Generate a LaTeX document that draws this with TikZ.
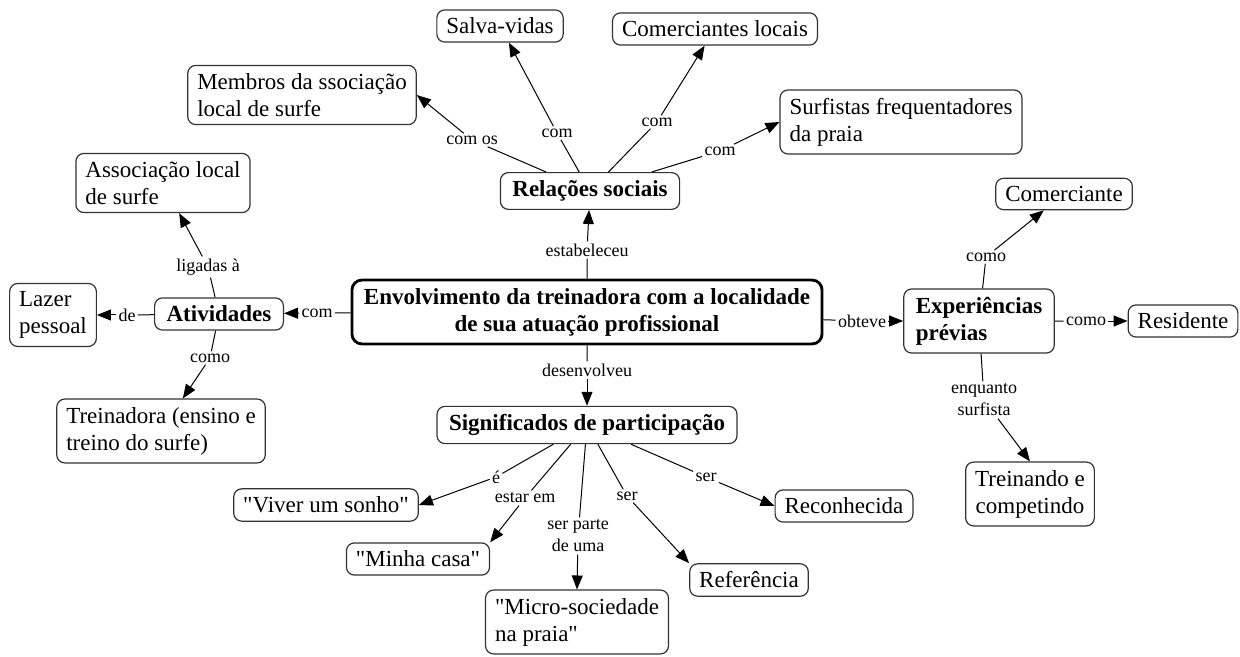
\documentclass[tikz,border=0pt]{standalone}
\usepackage{fontspec}
\setmainfont{LiberationSerif}[Extension=.ttf, UprightFont=*-Regular, BoldFont=*-Bold, ItalicFont=*-Italic, BoldItalicFont=*-BoldItalic]
\usetikzlibrary{arrows.meta}
\tikzset{
    concept/.style={draw=black!80, line width=0.6pt, rounded corners=4pt, fill=white,
        inner xsep=4.75pt, inner ysep=4pt, align=left, font=\fontsize{11.5}{13.5}\selectfont},
    keyconcept/.style={concept, inner xsep=6pt, font=\fontsize{11.5}{13.5}\selectfont\bfseries},
    linkword/.style={inner sep=1pt, align=center, font=\fontsize{9}{11}\selectfont},
    >={Triangle[length=7pt,width=5.5pt]}
}

\begin{document}
\begin{tikzpicture}[x=0.5pt, y=-0.5pt]
    \useasboundingbox (0,0) rectangle (1240,657);

    % concepts
    \node[keyconcept, draw=black, line width=1.4pt, rounded corners=5pt, align=center] (central) at (587,312) {Envolvimento da treinadora com a localidade\\de sua atuação profissional};
    \node[keyconcept] (relacoes) at (590,191) {Relações sociais};
    \node[keyconcept] (atividades) at (219,314) {Atividades};
    \node[keyconcept] (exper) at (979,321) {Experiências\\prévias};
    \node[keyconcept] (signif) at (587,425) {Significados de participação};

    \node[concept] (salva) at (500,26) {Salva-vidas};
    \node[concept] (comloc) at (715,29) {Comerciantes locais};
    \node[concept] (membros) at (302,95) {Membros da ssociação\\local de surfe};
    \node[concept] (surfistas) at (901,122) {Surfistas frequentadores\\da praia};
    \node[concept] (assoc) at (163,183) {Associação local\\de surfe};
    \node[concept] (lazer) at (53,315) {Lazer\\pessoal};
    \node[concept] (treinadora) at (161,431) {Treinadora (ensino e\\treino do surfe)};
    \node[concept] (comerc) at (1064,194) {Comerciante};
    \node[concept] (resid) at (1183,321) {Residente};
    \node[concept, align=center] (treinando) at (1030,494) {Treinando e\\competindo};
    \node[concept] (viver) at (326,505) {\textquotedbl Viver um sonho\textquotedbl};
    \node[concept] (minha) at (418,559) {\textquotedbl Minha casa\textquotedbl};
    \node[concept] (micro) at (577,622) {\textquotedbl Micro-sociedade\\na praia\textquotedbl};
    \node[concept] (refer) at (749,580) {Referência};
    \node[concept] (reconh) at (844,506) {Reconhecida};

    % linking words
    \node[linkword] (lestab) at (587,250) {estabeleceu};
    \node[linkword] (lcomos) at (472,140) {com os};
    \node[linkword] (lcoma) at (557,133) {com};
    \node[linkword] (lcomb) at (657,122) {com};
    \node[linkword] (lcomc) at (720,151) {com};
    \node[linkword] (lcomd) at (317,313) {com};
    \node[linkword] (lde) at (127,315) {de};
    \node[linkword] (lligadas) at (208,267) {ligadas à};
    \node[linkword] (lcomoa) at (210,358) {como};
    \node[linkword] (lobteve) at (862,321) {obteve};
    \node[linkword] (lcomob) at (986,257) {como};
    \node[linkword] (lcomoc) at (1086,321) {como};
    \node[linkword] (lenquanto) at (984,400) {enquanto\\surfista};
    \node[linkword] (ldesenv) at (587,370) {desenvolveu};
    \node[linkword] (le) at (496,477) {é};
    \node[linkword] (lestar) at (525,498) {estar em};
    \node[linkword] (lparte) at (578,536) {ser parte\\de uma};
    \node[linkword] (lsera) at (627,496) {ser};
    \node[linkword] (lserb) at (706,477) {ser};

    \draw[line width=0.5pt, black]
    (central) -- (lestab) (lestab) edge[->] (relacoes)
    (relacoes) -- (lcomos) (lcomos) edge[->] (membros.east)
    (relacoes) -- (lcoma) (lcoma) edge[->] (salva)
    (relacoes) -- (lcomb) (lcomb) edge[->] (comloc)
    (relacoes) -- (lcomc) (lcomc) edge[->] (surfistas.west)
    (central) -- (lcomd) (lcomd) edge[->] (atividades)
    (atividades) -- (lde) (lde) edge[->] (lazer.east)
    (atividades) -- (lligadas) (lligadas) edge[->] (assoc)
    (atividades) -- (lcomoa) (lcomoa) edge[->] (treinadora)
    (central) -- (lobteve) (lobteve) edge[->] (exper.west)
    (exper) -- (lcomob) (lcomob) edge[->] (comerc)
    (exper) -- (lcomoc) (lcomoc) edge[->] (resid.west)
    (exper) -- (lenquanto) (lenquanto) edge[->] (treinando.north)
    (central) -- (ldesenv) (ldesenv) edge[->] (signif)
    (signif) -- (le) (le) edge[->] (viver.east)
    (signif) -- (lestar) (lestar) edge[->] (minha.north east)
    (signif) -- (lparte) (lparte) edge[->] (micro.north)
    (signif) -- (lsera) (lsera) edge[->] (refer.north west)
    (signif) -- (lserb) (lserb) edge[->] (reconh.west);
\end{tikzpicture}
\end{document}
